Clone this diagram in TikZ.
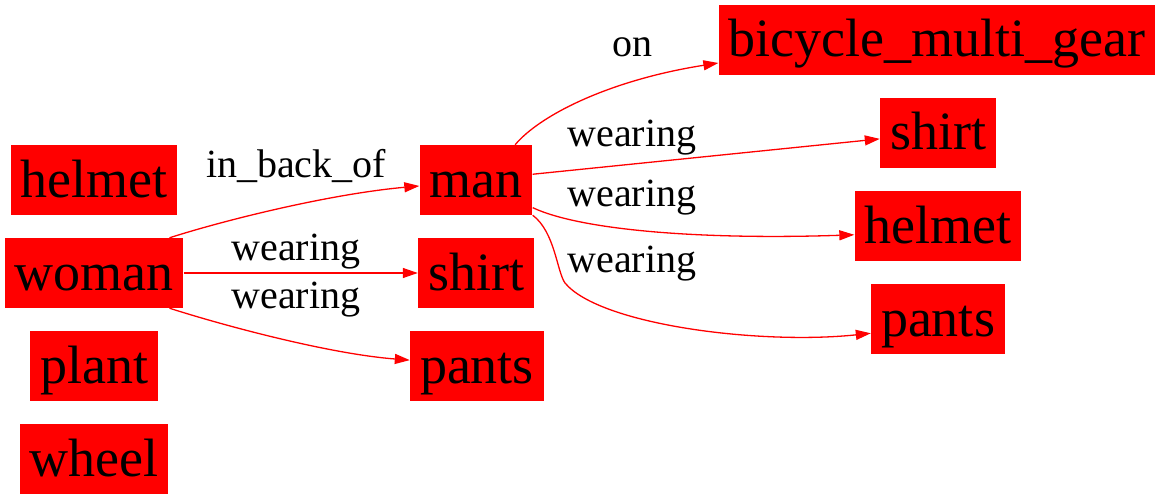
\documentclass[tikz,border=0pt]{standalone}
\usepackage{fontspec}
\setmainfont{Liberation Serif}
\usetikzlibrary{arrows.meta,positioning}
\newcommand{\objfont}{\fontsize{54}{60}\selectfont}
\newcommand{\relfont}{\fontsize{40}{46}\selectfont}
\tikzset{
  obj/.style={fill=red, draw=none, minimum height=70pt, inner xsep=10pt, inner ysep=0pt,
    text height=40pt, text depth=6pt, font=\objfont},
  lbl/.style={font=\relfont, anchor=base, inner sep=0pt},
  rel/.style={draw=red, line width=1.3pt, -{Triangle[length=15pt,width=10pt]}}
}
\begin{document}
\begin{tikzpicture}[x=1pt,y=-1pt]
\useasboundingbox (0,0) rectangle (1160,500);
% objects
\node[obj] (helmetL) at (94,180) {helmet};
\node[obj] (woman)   at (94,273) {woman};
\node[obj] (plant)   at (94,366) {plant};
\node[obj] (wheel)   at (94,459) {wheel};
\node[obj] (man)     at (476,180) {man};
\node[obj] (shirtM)  at (476,273) {shirt};
\node[obj] (pantsM)  at (477,366) {pants};
\node[obj] (bike)    at (937,40)  {bicycle\_multi\_gear};
\node[obj] (shirtR)  at (938,133) {shirt};
\node[obj] (helmetR) at (938,226) {helmet};
\node[obj] (pantsR)  at (938,319) {pants};
% relations
\draw[rel] (woman.25) .. controls (225,220) and (330,194) .. (man.186);
\draw[rel] (woman) -- (shirtM);
\draw[rel] (woman.-25) .. controls (225,326) and (330,354) .. (pantsM.175);
\draw[rel] (man.42) .. controls (540,115) and (610,80) .. (bike.186);
\draw[rel] (man) -- (shirtR);
\draw[rel] (man.-26) .. controls (580,230) and (700,240) .. (helmetR.186);
\draw[rel] (man.south east) .. controls (555,232) and (557,272) .. (565,283)
  .. controls (600,325) and (760,345) .. (pantsR.192);
% labels
\node[lbl] (l1) at (296,178) {in\_back\_of};
\node[lbl] (l2) at (296,260) {wearing};
\node[lbl] (l3) at (296,308) {wearing};
\node[lbl] (l4) at (632,57)  {on};
\node[lbl] (l5) at (632,147) {wearing};
\node[lbl] (l6) at (632,207) {wearing};
\node[lbl] (l7) at (632,272) {wearing};
\end{tikzpicture}
\end{document}
